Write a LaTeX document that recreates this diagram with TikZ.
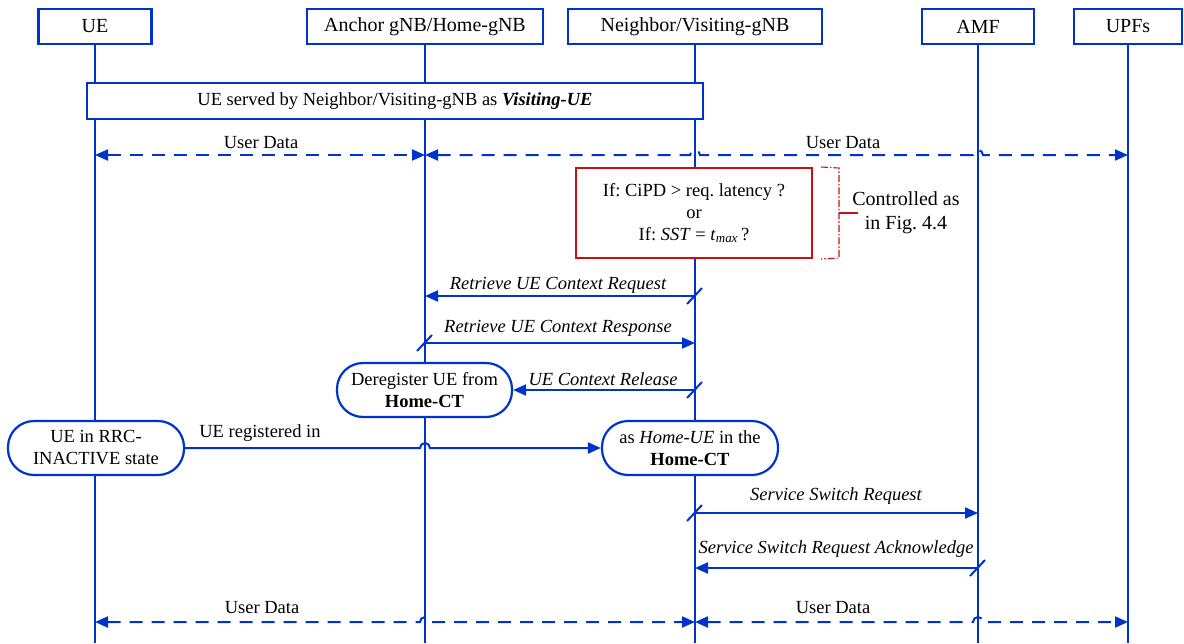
\documentclass[tikz,border=0pt]{standalone}
\usepackage{fontspec}
\setmainfont{Liberation Serif}
\usetikzlibrary{arrows.meta}
\definecolor{seqblue}{RGB}{0,51,204}
\definecolor{condred}{RGB}{200,16,16}
\frenchspacing
\begin{document}
\begin{tikzpicture}[x=1pt,y=-1pt,
  every node/.style={inner sep=0pt, font=\fontsize{18.5}{22}\selectfont},
  head/.style={draw=seqblue, line width=2.2pt, fill=white, minimum height=35pt,
    font=\fontsize{20}{24}\selectfont},
  life/.style={draw=seqblue, line width=1.8pt},
  msg/.style={draw=seqblue, line width=2pt},
  tip/.style={-{Triangle[length=13pt,width=11pt]}},
  twotip/.style={{Triangle[length=13pt,width=11pt]}-{Triangle[length=13pt,width=11pt]}},
  data/.style={msg, dash pattern=on 13pt off 9pt},
  state/.style={draw=seqblue, line width=2.2pt, fill=white, rounded corners=26pt,
    align=center, minimum height=54pt, font=\fontsize{18.5}{22}\selectfont},
  ilbl/.style={font=\fontsize{18.5}{22}\selectfont\itshape},
]
\useasboundingbox (0,0) rectangle (1184,643);

% participants
\node[head, minimum width=113pt] (ue)  at (95,26.5)  {UE};
\node[head, minimum width=236pt] (anc) at (425,26.5) {Anchor gNB/Home-gNB};
\node[head, minimum width=254pt] (nb)  at (695,26.5) {Neighbor/Visiting-gNB};
\node[head, minimum width=112pt] (amf) at (978,26.5) {AMF};
\node[head, minimum width=108pt] (upf) at (1128,26.5) {UPFs};

% lifelines
\coordinate (ueEnd)  at (ue.south  |- 0,643);
\coordinate (ancEnd) at (anc.south |- 0,643);
\coordinate (nbEnd)  at (nb.south  |- 0,643);
\coordinate (amfEnd) at (amf.south |- 0,643);
\coordinate (upfEnd) at (upf.south |- 0,643);
\draw[life] (ue.south)  -- (ueEnd);
\draw[life] (anc.south) -- (ancEnd);
\draw[life] (nb.south)  -- (nbEnd);
\draw[life] (amf.south) -- (amfEnd);
\draw[life] (upf.south) -- (upfEnd);

% visiting state
\node[draw=seqblue, line width=2.2pt, fill=white, minimum width=616pt, minimum height=36pt]
  (visit) at (395,101) {UE served by Neighbor/Visiting-gNB as \textbf{\textit{Visiting-UE}}};

% user data before the switch
\coordinate (ud1a) at (95,155);
\coordinate (ud1b) at (425,155);
\coordinate (ud1c) at (1128,155);
\draw[data, twotip] (ud1a) -- (ud1b);
\draw[data, twotip] (ud1b) -- (690,155) arc (180:0:5pt) -- (973,155) arc (180:0:5pt) -- (ud1c);
\node (ud1l) at (261,143) {User Data};
\node (ud1r) at (843,143) {User Data};

% switching condition
\node[draw=condred, line width=2pt, fill=white, minimum width=236pt, minimum height=90pt,
  align=center] (cond) at (694,213)
  {If: CiPD > req. latency ?\\or\\If: \textit{SST} = \textit{t}\textsubscript{\textit{max}}\,?};
\coordinate (brT) at (839,168);
\coordinate (brB) at (839,258);
\coordinate (brM) at (839,213);
\coordinate (brTick) at (858,213);
\draw[condred, line width=1.1pt, dash pattern=on 7pt off 2pt on 1.5pt off 2pt]
  ([xshift=8pt]cond.north east) -- (brT) -- (brB) -- ([xshift=8pt]cond.south east);
\draw[condred, line width=1.3pt] (brM) -- (brTick);
\node[align=center, font=\fontsize{20}{24}\selectfont] (ctl) at (906,213) {Controlled as\\in Fig. 4.4};

% context retrieval
\coordinate (rq1) at (695,296);
\coordinate (rq2) at (425,296);
\draw[msg, tip] (rq1) -- (rq2);
\draw[msg] (687,304) -- (702,288);
\node[ilbl] (rqL) at (558,285) {Retrieve UE Context Request};

\coordinate (rs1) at (425,343);
\coordinate (rs2) at (695,343);
\draw[msg, tip] (rs1) -- (rs2);
\draw[msg] (417,351) -- (432,335);
\node[ilbl] (rsL) at (558,328) {Retrieve UE Context Response};

% release at the home gNB
\node[state, minimum width=175pt] (dereg) at (424.5,390) {Deregister UE from\\\textbf{Home-CT}};
\coordinate (rl1) at (695,390);
\draw[msg, tip] (rl1) -- (dereg.east);
\draw[msg] (687,398) -- (702,382);
\node[ilbl] (rlL) at (603,379) {UE Context Release};

% re-registration
\node[state, minimum width=176pt] (rrc)  at (96,448)  {UE in RRC-\\INACTIVE state};
\node[state, minimum width=176pt] (home) at (690,448) {as \textit{Home-UE} in the\\\textbf{Home-CT}};
\draw[msg, tip] (rrc.east) -- (420,448) arc (180:0:5pt) -- (home.west);
\node (regL) at (260,433) {UE registered in};

% service switch towards the AMF
\coordinate (ss1) at (695,513);
\coordinate (ss2) at (978,513);
\draw[msg, tip] (ss1) -- (ss2);
\draw[msg] (687,521) -- (702,505);
\node[ilbl] (ssL) at (836,496) {Service Switch Request};

\coordinate (sa1) at (978,568);
\coordinate (sa2) at (695,568);
\draw[msg, tip] (sa1) -- (sa2);
\draw[msg] (970,576) -- (985,560);
\node[ilbl] (saL) at (836,549) {Service Switch Request Acknowledge};

% user data after the switch
\coordinate (ud2a) at (95,622);
\coordinate (ud2b) at (695,622);
\coordinate (ud2c) at (1128,622);
\draw[data, twotip] (ud2a) -- (420,622) arc (180:0:5pt) -- (ud2b);
\draw[data, twotip] (ud2b) -- (973,622) arc (180:0:5pt) -- (ud2c);
\node (ud2l) at (262,608) {User Data};
\node (ud2r) at (833,608) {User Data};
\end{tikzpicture}
\end{document}
